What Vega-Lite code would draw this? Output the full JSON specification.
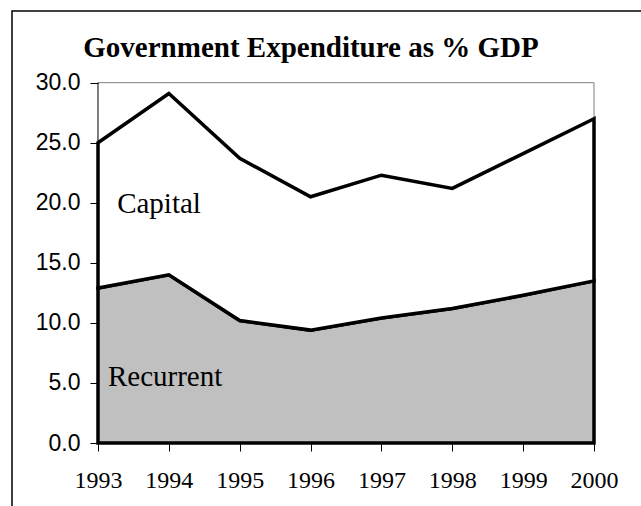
{
  "$schema": "https://vega.github.io/schema/vega-lite/v6.json",
  "width": 632,
  "height": 498,
  "autosize": {"type": "none"},
  "padding": {"left": 12, "top": 11, "right": -3, "bottom": -3},
  "background": "white",
  "config": {
    "view": {"stroke": "black", "strokeWidth": 1.5},
    "axisX": {"labelFont": "Liberation Serif", "labelFontSize": 24, "labelColor": "black"},
    "axisY": {"labelFont": "Liberation Sans", "labelFontSize": 23, "labelColor": "black"}
  },
  "title": {
    "text": "Government Expenditure as % GDP",
    "font": "Liberation Serif",
    "fontSize": 29,
    "fontWeight": "bold",
    "color": "black",
    "anchor": "middle",
    "frame": "group",
    "offset": -75,
    "baseline": "alphabetic",
    "dx": -17
  },
  "layer": [
    {
      "data": {"values": [{}]},
      "mark": {"type": "rule", "color": "#808080", "strokeWidth": 1},
      "encoding": {
        "x": {"datum": 1993, "type": "quantitative", "scale": {"domain": [1991.7863, 2000.7056], "nice": false, "zero": false},
          "axis": {"values": [1993, 1994, 1995, 1996, 1997, 1998, 1999, 2000], "format": "d", "offset": -66, "domain": false, "grid": false, "tickSize": 8, "tickColor": "black", "tickWidth": 1, "labelFont": "Liberation Serif", "labelFontSize": 24, "labelColor": "black", "labelPadding": 17, "labelFlush": false, "labelOverlap": false, "title": null}},
        "x2": {"datum": 2000},
        "y": {"datum": 30, "type": "quantitative", "scale": {"domain": [-5.4954, 35.97], "nice": false, "zero": false},
          "axis": {"values": [0, 5, 10, 15, 20, 25, 30], "format": ".1f", "offset": -86, "domain": false, "grid": false, "tickSize": 8, "tickColor": "black", "tickWidth": 1, "labelFont": "Liberation Sans", "labelFontSize": 23, "labelColor": "black", "labelPadding": 10, "labelFlush": false, "labelOverlap": false, "title": null}}
      }
    },
    {
      "data": {"values": [{}]},
      "mark": {"type": "rule", "color": "#808080", "strokeWidth": 1},
      "encoding": {
        "x": {"datum": 2000, "type": "quantitative", "scale": {"domain": [1991.7863, 2000.7056], "nice": false, "zero": false},
          "axis": {"values": [1993, 1994, 1995, 1996, 1997, 1998, 1999, 2000], "format": "d", "offset": -66, "domain": false, "grid": false, "tickSize": 8, "tickColor": "black", "tickWidth": 1, "labelFont": "Liberation Serif", "labelFontSize": 24, "labelColor": "black", "labelPadding": 17, "labelFlush": false, "labelOverlap": false, "title": null}},
        "y": {"datum": 0, "type": "quantitative", "scale": {"domain": [-5.4954, 35.97], "nice": false, "zero": false},
          "axis": {"values": [0, 5, 10, 15, 20, 25, 30], "format": ".1f", "offset": -86, "domain": false, "grid": false, "tickSize": 8, "tickColor": "black", "tickWidth": 1, "labelFont": "Liberation Sans", "labelFontSize": 23, "labelColor": "black", "labelPadding": 10, "labelFlush": false, "labelOverlap": false, "title": null}},
        "y2": {"datum": 30}
      }
    },
    {
      "data": {"values": [{}]},
      "mark": {"type": "rule", "color": "black", "strokeWidth": 1},
      "encoding": {
        "x": {"datum": 1993, "type": "quantitative", "scale": {"domain": [1991.7863, 2000.7056], "nice": false, "zero": false},
          "axis": {"values": [1993, 1994, 1995, 1996, 1997, 1998, 1999, 2000], "format": "d", "offset": -66, "domain": false, "grid": false, "tickSize": 8, "tickColor": "black", "tickWidth": 1, "labelFont": "Liberation Serif", "labelFontSize": 24, "labelColor": "black", "labelPadding": 17, "labelFlush": false, "labelOverlap": false, "title": null}},
        "y": {"datum": 0, "type": "quantitative", "scale": {"domain": [-5.4954, 35.97], "nice": false, "zero": false},
          "axis": {"values": [0, 5, 10, 15, 20, 25, 30], "format": ".1f", "offset": -86, "domain": false, "grid": false, "tickSize": 8, "tickColor": "black", "tickWidth": 1, "labelFont": "Liberation Sans", "labelFontSize": 23, "labelColor": "black", "labelPadding": 10, "labelFlush": false, "labelOverlap": false, "title": null}},
        "y2": {"datum": 30}
      }
    },
    {
      "data": {
        "values": [
          {"year": 1993, "type": "Recurrent", "value": 12.9},
          {"year": 1994, "type": "Recurrent", "value": 14.0},
          {"year": 1995, "type": "Recurrent", "value": 10.2},
          {"year": 1996, "type": "Recurrent", "value": 9.4},
          {"year": 1997, "type": "Recurrent", "value": 10.4},
          {"year": 1998, "type": "Recurrent", "value": 11.2},
          {"year": 1999, "type": "Recurrent", "value": 12.3},
          {"year": 2000, "type": "Recurrent", "value": 13.5},
          {"year": 1993, "type": "Capital", "value": 12.1},
          {"year": 1994, "type": "Capital", "value": 15.1},
          {"year": 1995, "type": "Capital", "value": 13.5},
          {"year": 1996, "type": "Capital", "value": 11.1},
          {"year": 1997, "type": "Capital", "value": 11.9},
          {"year": 1998, "type": "Capital", "value": 10.0},
          {"year": 1999, "type": "Capital", "value": 11.8},
          {"year": 2000, "type": "Capital", "value": 13.5}
        ]
      },
      "mark": {"type": "area", "stroke": "black", "strokeWidth": 3.5, "interpolate": "linear", "opacity": 1},
      "encoding": {
        "x": {"field": "year", "type": "quantitative", "scale": {"domain": [1991.7863, 2000.7056], "nice": false, "zero": false},
          "axis": {"values": [1993, 1994, 1995, 1996, 1997, 1998, 1999, 2000], "format": "d", "offset": -66, "domain": false, "grid": false, "tickSize": 8, "tickColor": "black", "tickWidth": 1, "labelFont": "Liberation Serif", "labelFontSize": 24, "labelColor": "black", "labelPadding": 17, "labelFlush": false, "labelOverlap": false, "title": null}},
        "y": {"field": "value", "type": "quantitative", "stack": "zero", "scale": {"domain": [-5.4954, 35.97], "nice": false, "zero": false},
          "axis": {"values": [0, 5, 10, 15, 20, 25, 30], "format": ".1f", "offset": -86, "domain": false, "grid": false, "tickSize": 8, "tickColor": "black", "tickWidth": 1, "labelFont": "Liberation Sans", "labelFontSize": 23, "labelColor": "black", "labelPadding": 10, "labelFlush": false, "labelOverlap": false, "title": null}},
        "color": {"field": "type", "type": "nominal", "scale": {"domain": ["Recurrent", "Capital"], "range": ["#C0C0C0", "#FFFFFF"]}, "legend": null},
        "order": {"field": "type", "sort": "descending"}
      }
    },
    {
      "data": {"values": [{}]},
      "mark": {"type": "text", "text": "Capital", "font": "Liberation Serif", "fontSize": 29, "color": "black", "align": "left", "baseline": "alphabetic"},
      "encoding": {
        "x": {"datum": 1993.27, "type": "quantitative", "scale": {"domain": [1991.7863, 2000.7056], "nice": false, "zero": false},
          "axis": {"values": [1993, 1994, 1995, 1996, 1997, 1998, 1999, 2000], "format": "d", "offset": -66, "domain": false, "grid": false, "tickSize": 8, "tickColor": "black", "tickWidth": 1, "labelFont": "Liberation Serif", "labelFontSize": 24, "labelColor": "black", "labelPadding": 17, "labelFlush": false, "labelOverlap": false, "title": null}},
        "y": {"datum": 19.15, "type": "quantitative", "scale": {"domain": [-5.4954, 35.97], "nice": false, "zero": false},
          "axis": {"values": [0, 5, 10, 15, 20, 25, 30], "format": ".1f", "offset": -86, "domain": false, "grid": false, "tickSize": 8, "tickColor": "black", "tickWidth": 1, "labelFont": "Liberation Sans", "labelFontSize": 23, "labelColor": "black", "labelPadding": 10, "labelFlush": false, "labelOverlap": false, "title": null}}
      }
    },
    {
      "data": {"values": [{}]},
      "mark": {"type": "text", "text": "Recurrent", "font": "Liberation Serif", "fontSize": 29, "color": "black", "align": "left", "baseline": "alphabetic"},
      "encoding": {
        "x": {"datum": 1993.14, "type": "quantitative", "scale": {"domain": [1991.7863, 2000.7056], "nice": false, "zero": false},
          "axis": {"values": [1993, 1994, 1995, 1996, 1997, 1998, 1999, 2000], "format": "d", "offset": -66, "domain": false, "grid": false, "tickSize": 8, "tickColor": "black", "tickWidth": 1, "labelFont": "Liberation Serif", "labelFontSize": 24, "labelColor": "black", "labelPadding": 17, "labelFlush": false, "labelOverlap": false, "title": null}},
        "y": {"datum": 4.75, "type": "quantitative", "scale": {"domain": [-5.4954, 35.97], "nice": false, "zero": false},
          "axis": {"values": [0, 5, 10, 15, 20, 25, 30], "format": ".1f", "offset": -86, "domain": false, "grid": false, "tickSize": 8, "tickColor": "black", "tickWidth": 1, "labelFont": "Liberation Sans", "labelFontSize": 23, "labelColor": "black", "labelPadding": 10, "labelFlush": false, "labelOverlap": false, "title": null}}
      }
    }
  ]
}
